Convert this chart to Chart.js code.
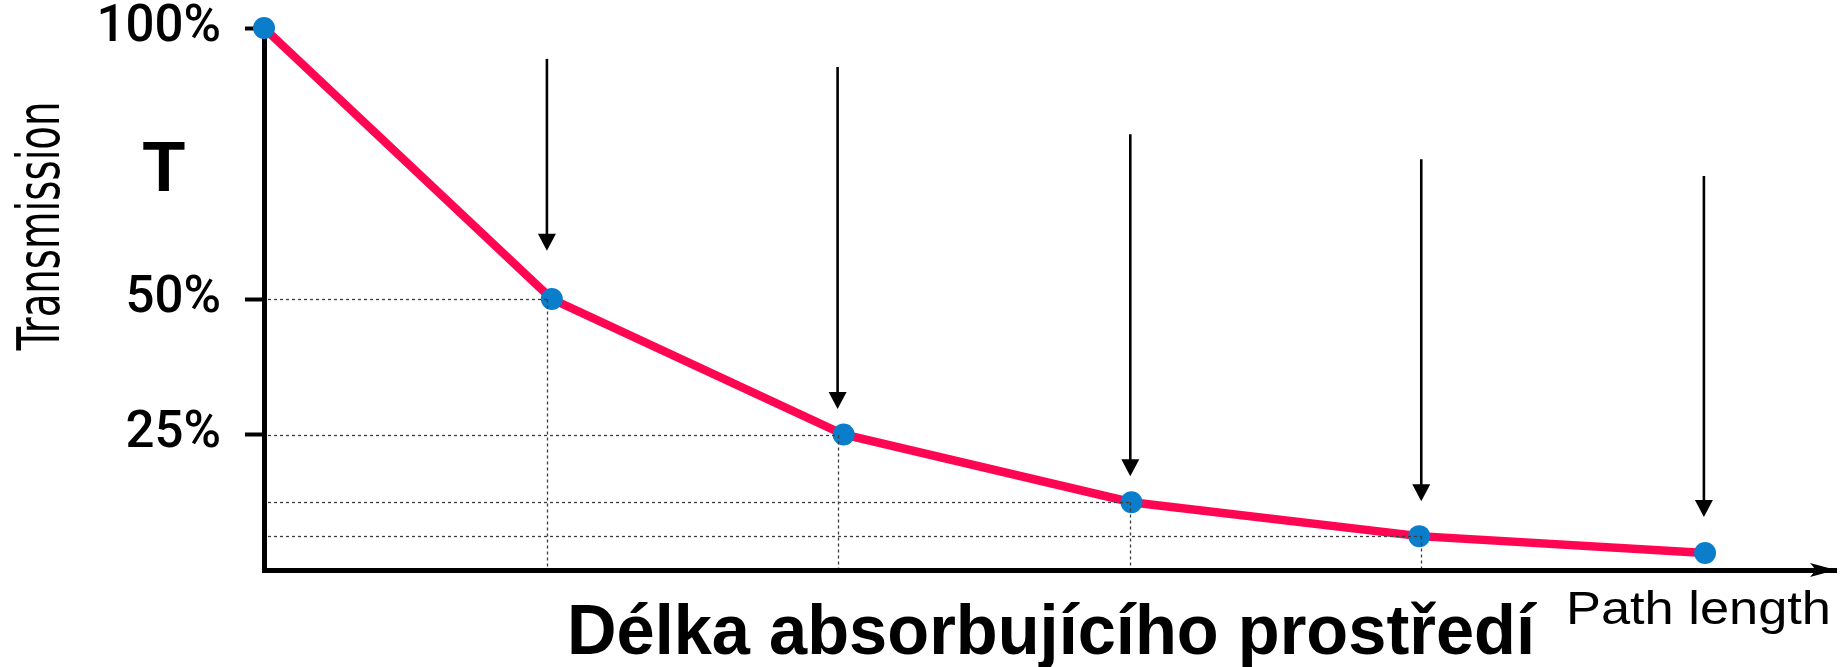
<!DOCTYPE html>
<html><head><meta charset="utf-8">
<script src="https://cdn.jsdelivr.net/npm/chart.js@4.4.0/dist/chart.umd.min.js"></script>
<style>html,body{margin:0;padding:0;background:#fff;} #wrap{width:1847px;height:667px;position:relative;}</style>
</head><body><div id="wrap"><canvas id="c" width="1847" height="667"></canvas></div>
<script>
// ---- data ----
const pathLength   = [0, 1.0, 2.014, 3.014, 4.014, 5.007];
const transmission = [100, 50, 25, 12.5, 6.25, 3.125];
const yTickValues  = [25, 50, 100];
const arrowX       = [0.983, 1.993, 3.01, 4.021, 5.003];
const arrowTop     = [94.3, 92.8, 80.4, 75.8, 72.7];   // % where each arrow starts
const arrowTip     = [58.9, 29.7, 17.3, 12.7, 9.8];    // % where each arrow ends
const guideArrows  = [0, 1, 2, 3];                      // arrows whose points get dotted guides
const xAxisMax     = 5.462;
const yAxisTitle   = 'Transmission';
const xAxisTitle   = 'Délka absorbujícího prostředí';
const xAxisTitleEn = 'Path length';
const symbolLabel  = 'T';

function fitText(ctx, text, x, y, targetW, align) {
  const w = ctx.measureText(text).width;
  const s = targetW / w;
  ctx.save();
  ctx.translate(x, y);
  ctx.scale(s, 1);
  ctx.textAlign = align || 'left';
  ctx.fillText(text, 0, 0);
  ctx.restore();
}

const annot = {
  id: 'annot',
  beforeDatasetsDraw(chart) {
    const ctx = chart.ctx, xs = chart.scales.x, ys = chart.scales.y;
    ctx.save();
    ctx.strokeStyle = '#000'; ctx.fillStyle = '#000'; ctx.lineWidth = 2.6;
    for (let i = 0; i < arrowX.length; i++) {
      const px = xs.getPixelForValue(arrowX[i]);
      const y0 = ys.getPixelForValue(arrowTop[i]);
      const y1 = ys.getPixelForValue(arrowTip[i]);
      ctx.beginPath(); ctx.moveTo(px, y0); ctx.lineTo(px, y1 - 14); ctx.stroke();
      ctx.beginPath(); ctx.moveTo(px - 9, y1 - 17); ctx.lineTo(px + 9, y1 - 17); ctx.lineTo(px, y1); ctx.closePath(); ctx.fill();
    }
    ctx.restore();
  },
  afterDatasetsDraw(chart) {
    const ctx = chart.ctx, xs = chart.scales.x, ys = chart.scales.y, a = chart.chartArea;
    ctx.save();
    ctx.strokeStyle = '#3c3c3c'; ctx.lineWidth = 1.3; ctx.setLineDash([3, 3]);
    guideArrows.forEach(i => {
      const px = Math.round(xs.getPixelForValue(arrowX[i])) + 0.5;
      const py = Math.round(ys.getPixelForValue(transmission[i + 1])) + 0.5;
      ctx.beginPath(); ctx.moveTo(a.left + 4, py); ctx.lineTo(px, py); ctx.stroke();
      ctx.beginPath(); ctx.moveTo(px, py); ctx.lineTo(px, a.bottom - 2); ctx.stroke();
    });
    ctx.setLineDash([]);
    // x axis arrow head
    ctx.fillStyle = '#000';
    ctx.beginPath();
    ctx.moveTo(a.right, a.bottom);
    ctx.lineTo(a.right - 26, a.bottom - 7);
    ctx.lineTo(a.right - 20, a.bottom);
    ctx.lineTo(a.right - 26, a.bottom + 7);
    ctx.closePath(); ctx.fill();
    ctx.restore();
  },
  afterDraw(chart) {
    const ctx = chart.ctx;
    ctx.save();
    ctx.fillStyle = '#000';
    ctx.textBaseline = 'alphabetic';
    // T
    ctx.font = 'bold 70px "Liberation Sans", Arial, sans-serif';
    ctx.textAlign = 'center';
    ctx.fillText(symbolLabel, 164, 191);
    // Transmission (rotated)
    ctx.save();
    ctx.translate(59, 226);
    ctx.rotate(-Math.PI / 2);
    ctx.font = '58px "Liberation Sans Narrow", "DejaVu Sans Condensed", sans-serif';
    fitText(ctx, yAxisTitle, 0, 0, 249, 'center');
    ctx.restore();
    // main x title
    ctx.font = 'bold 71px "Liberation Sans", Arial, sans-serif';
    fitText(ctx, xAxisTitle, 1535, 654, 968, 'right');
    // Path length
    ctx.font = '47px "Liberation Sans", Arial, sans-serif';
    fitText(ctx, xAxisTitleEn, 1566, 624, 265, 'left');
    ctx.restore();
  }
};

new Chart(document.getElementById('c'), {
  type: 'line',
  data: {
    datasets: [{
      data: pathLength.map((x, i) => ({ x: x, y: transmission[i] })),
      borderColor: '#FF0552',
      borderWidth: 8.5,
      pointRadius: 11,
      pointHoverRadius: 11,
      pointBackgroundColor: '#0A7ECB',
      pointBorderWidth: 0,
      tension: 0,
      clip: false
    }]
  },
  options: {
    responsive: false,
    animation: false,
    events: [],
    layout: { padding: { top: 28, right: 0, left: 0, bottom: 0 } },
    plugins: { legend: { display: false }, tooltip: { enabled: false } },
    scales: {
      x: {
        type: 'linear', min: 0, max: xAxisMax,
        ticks: { display: false },
        grid: { display: false },
        border: { display: true, color: '#000', width: 5 },
        afterFit: s => { s.height = 97; s.paddingLeft = 0; s.paddingRight = 0; }
      },
      y: {
        type: 'linear', min: 0, max: 100,
        afterBuildTicks: s => { s.ticks = yTickValues.map(v => ({ value: v })); },
        ticks: {
          callback: v => v + '%',
          color: '#000',
          padding: 24,
          font: { family: 'Roboto, "Liberation Sans", sans-serif', size: 51, weight: '500' }
        },
        grid: { drawOnChartArea: false, drawTicks: true, tickLength: 19, tickWidth: 4, tickColor: '#000', color: '#000' },
        border: { display: true, color: '#000', width: 5 },
        afterFit: s => { s.width = 264; s.paddingTop = 0; s.paddingBottom = 0; }
      }
    }
  },
  plugins: [annot]
});
</script>
</body></html>
